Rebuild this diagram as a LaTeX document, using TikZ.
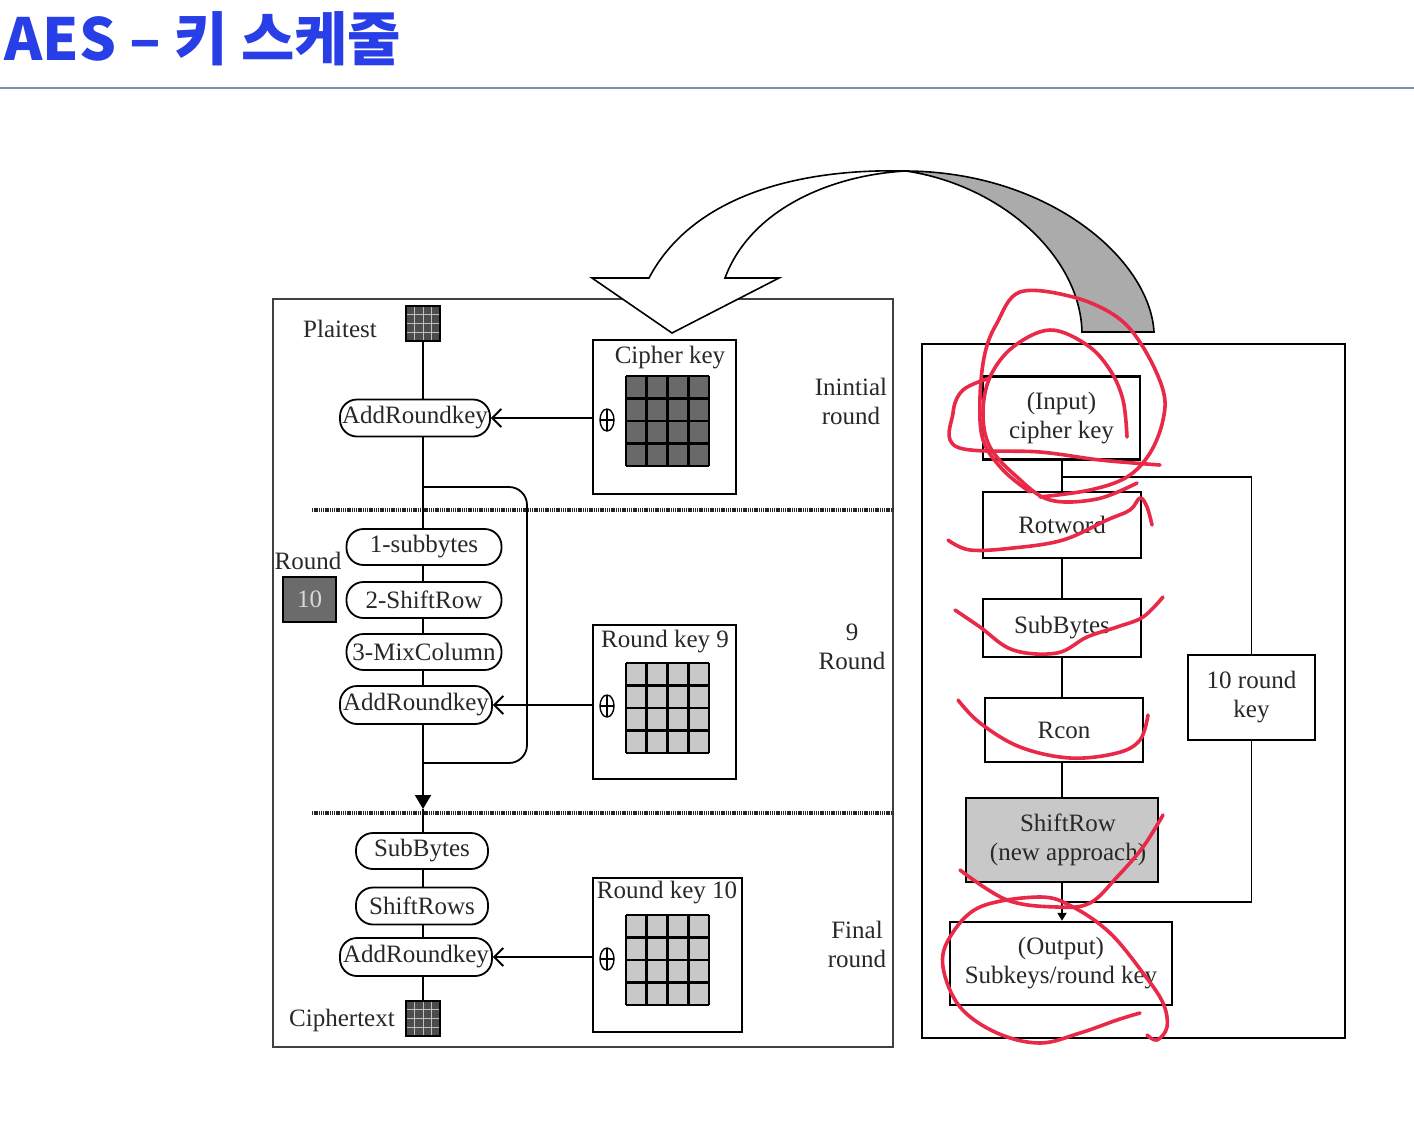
\documentclass[tikz,border=0pt]{standalone}
\usepackage{fontspec}
\setmainfont{Liberation Serif}
\newfontfamily\kr{Noto Sans CJK KR}
\usetikzlibrary{arrows.meta,shapes.geometric,shapes.misc}
\definecolor{titleblue}{RGB}{40,62,230}
\definecolor{rulec}{RGB}{125,145,175}
\definecolor{redink}{RGB}{232,42,72}
\definecolor{txt}{RGB}{40,40,40}
\definecolor{keydark}{RGB}{105,105,105}
\definecolor{keylight}{RGB}{200,200,200}
\newcommand{\kgrid}[3]{%
  \fill[#3] (#1,#2) rectangle ++(83,90);
  \foreach \i in {0,...,4} {
    \draw[line width=2.6] ({#1+\i*20.75},#2) -- ++(0,90);
    \draw[line width=2.6] (#1,{#2+\i*22.5}) -- ++(83,0);
  }}
\newcommand{\igrid}[2]{%
  \fill[black!70] (#1,#2) rectangle ++(34,35);
  \foreach \i in {1,...,3} {
    \draw[black!25, line width=1] ({#1+\i*8.5},#2) -- ++(0,35);
    \draw[black!25, line width=1] (#1,{#2+\i*8.75}) -- ++(34,0);
  }
  \draw[line width=1.4] (#1,#2) rectangle ++(34,35);}
\begin{document}
\begin{tikzpicture}[x=1pt,y=-1pt,
  every node/.style={font=\fontsize{25}{29}\selectfont, text=txt},
  pill/.style={draw, line width=1.8, rounded corners=17, minimum height=36, inner sep=0pt},
  bigbox/.style={draw, line width=2, black!75},
  keybox/.style={draw, line width=2, inner sep=0pt},
  rbox/.style={draw, line width=2.4, inner sep=0pt, align=center},
  xor/.style={draw, ellipse, line width=1.4, minimum width=14, minimum height=22, inner sep=0pt,
    path picture={\draw[line width=1.2] (path picture bounding box.north) -- (path picture bounding box.south)
      (path picture bounding box.west) -- (path picture bounding box.east);}},
  conn/.style={line width=1.8},
  dotline/.style={line width=3.6, black!85, dash pattern=on 1.4pt off 0.8pt},
  redstroke/.style={redink, line width=3.6, line cap=round, line join=round}]

\useasboundingbox (0,0) rectangle (1414,1136);
\fill[white] (0,0) rectangle (1414,1136);

% title
\node[anchor=west, inner sep=0pt, font=\kr\bfseries\fontsize{58}{66}\selectfont, text=titleblue] (title) at (4,39) {AES – 키 스케줄};
\draw[rulec, line width=2] (0,88) -- (1414,88);

% big boxes
\node[bigbox, minimum width=620, minimum height=748] (lb) at (583,673) {};
\node[bigbox, black, line width=2.2, minimum width=423, minimum height=694] (rb) at (1133.5,691) {};

% separators
\draw[dotline] (312,510) -- (893,510);
\draw[dotline] (312,813) -- (893,813);

% left column
\node (pt) at (340,329) {Plaitest};
\node[minimum width=34, minimum height=35, inner sep=0pt] (ptIcon) at (423,323.5) {};
\igrid{406}{306}
\node (ct) at (342,1020) {Ciphertext};
\node[minimum width=33, minimum height=35, inner sep=0pt] (ctIcon) at (423,1018.5) {};
\igrid{406}{1001}

\coordinate (sp) at (423,0);

\node[pill, minimum width=150, minimum height=37] (ark1) at (415,418) {AddRoundkey};
\node[pill, minimum width=155] (sb1) at (424,547) {1-subbytes};
\node[pill, minimum width=155] (sr1) at (424,600) {2-ShiftRow};
\node[pill, minimum width=155] (mc) at (424,652) {3-MixColumn};
\node[pill, minimum width=152, minimum height=38] (ark2) at (416,705) {AddRoundkey};
\node[pill, minimum width=132] (sbF) at (422,851) {SubBytes};
\node[pill, minimum width=132, minimum height=37] (srF) at (422,906) {ShiftRows};
\node[pill, minimum width=152, minimum height=38] (ark3) at (416,957) {AddRoundkey};

\node (rnd) at (308,561) {Round};
\node[draw, line width=1.5, fill=black!58, minimum width=53, minimum height=45, inner sep=0pt, text=black!15] (r10) at (309.5,599.5) {10};

% spine
\draw[conn] (ptIcon.south) -- (ptIcon.south |- ark1.north);
\draw[conn] (ark1.south -| sp) -- (sb1.north -| sp);
\draw[conn] (sb1.south -| sp) -- (sr1.north -| sp);
\draw[conn] (sr1.south -| sp) -- (mc.north -| sp);
\draw[conn] (mc.south -| sp) -- (ark2.north -| sp);
\coordinate (tipc) at (423,809);
\draw[conn, -{Triangle[length=14pt,width=16pt]}] (ark2.south -| sp) -- (tipc);
\draw[conn] (tipc) -- (sbF.north -| sp);
\draw[conn] (sbF.south -| sp) -- (srF.north -| sp);
\draw[conn] (srF.south -| sp) -- (ark3.north -| sp);
\draw[conn] (ark3.south -| sp) -- (ctIcon.north);

% loop
\coordinate (lpA) at (423,487);
\coordinate (lpB) at (423,763);
\draw[conn, rounded corners=18] (lpA) -- ++(104,0) -- ++(0,276) -- (lpB);

% key boxes
\node[keybox, minimum width=143, minimum height=154] (ck) at (664.5,417) {};
\node (ckT) at (670,358) {Cipher key};
\kgrid{626}{376}{keydark}
\node[xor] (x1) at (607,420) {};

\node[keybox, minimum width=143, minimum height=154] (rk9) at (664.5,702) {};
\node (rk9T) at (665,642) {Round key 9};
\kgrid{626}{663}{keylight}
\node[xor] (x2) at (607,706) {};

\node[keybox, minimum width=149, minimum height=154] (rk10) at (667.5,955) {};
\node (rk10T) at (667,893) {Round key 10};
\kgrid{626}{915}{keylight}
\node[xor] (x3) at (607,959) {};

\draw[conn, -{Straight Barb[length=9pt,width=18pt,line width=2pt]}] (ck.west |- ark1.east) -- (ark1.east);
\draw[conn, -{Straight Barb[length=9pt,width=18pt,line width=2pt]}] (rk9.west |- ark2.east) -- (ark2.east);
\draw[conn, -{Straight Barb[length=9pt,width=18pt,line width=2pt]}] (rk10.west |- ark3.east) -- (ark3.east);

% side labels
\node[align=center] (l1) at (851,401) {Inintial\\round};
\node[align=center] (l2) at (852,647) {9\\Round};
\node[align=center] (l3) at (857,944) {Final\\round};

% right column
\node[rbox, minimum width=157, minimum height=83] (inp) at (1061.5,418) {(Input)\\cipher key};
\node[rbox, minimum width=158, minimum height=66] (rot) at (1062,525) {Rotword};
\node[rbox, minimum width=158, minimum height=58] (sub) at (1062,628) {SubBytes};
\node[rbox, minimum width=158, minimum height=64] (rcon) at (1064,730) {Rcon};
\node[rbox, fill=keylight, minimum width=192, minimum height=84] (shr) at (1062,840) {\hspace*{12pt}ShiftRow\\\hspace*{12pt}(new approach)};
\node[rbox, minimum width=222, minimum height=83] (out) at (1061,963.5) {(Output)\\Subkeys/round key};
\node[rbox, minimum width=127, minimum height=85] (trk) at (1251.5,697.5) {10 round\\key};

\draw[conn] (inp.south -| rot.north) -- (rot.north);
\draw[conn] (rot.south) -- (sub.north);
\draw[conn] (sub.south) -- (sub.south |- rcon.north);
\draw[conn] (sub.south |- rcon.south) -- (sub.south |- shr.north);
\draw[conn, -{Triangle[length=8pt,width=9pt]}] (shr.south -| rot.south) -- (rot.south |- out.north);
\coordinate (bj) at (1062,477);
\coordinate (bj2) at (1062,902);
\draw[conn] (bj) -| (trk.north);
\draw[conn] (trk.south) |- (bj2);

% big curved arrow
\draw[line width=1.6, fill=white] (592,278) -- (649,278)
  .. controls (690,200) and (790,168) .. (906,171)
  .. controls (830,175) and (750,210) .. (725,278)
  -- (779,278) -- (672,333) -- cycle;
\draw[line width=1.6, fill=black!33] (906,171)
  .. controls (1050,172) and (1150,260) .. (1154,332)
  -- (1082,332)
  .. controls (1080,255) and (1000,185) .. (906,171) -- cycle;

% red annotations
\draw[redstroke] plot[smooth, tension=0.6] coordinates {(1127,437) (1123,400) (1110,370) (1087,345) (1050,330) (1013,347) (990,377) (983,413) (990,447) (1017,477) (1050,500) (1097,499) (1137,483)};
\draw[redstroke] plot[smooth, tension=0.6] coordinates {(1030,492) (1003,470) (983,440) (980,397) (985,353) (997,323) (1020,292) (1073,297) (1117,317) (1143,347) (1163,390) (1163,420) (1150,453) (1127,477) (1090,490) (1040,497)};
\draw[redstroke] plot[smooth, tension=0.6] coordinates {(1160,465) (1100,460) (1040,452) (957,447) (953,413) (963,390) (990,378)};
\draw[redstroke] plot[smooth, tension=0.6] coordinates {(948,540) (970,550) (1013,548) (1063,540) (1107,520) (1130,510) (1140,498) (1147,507) (1152,525)};
\draw[redstroke] plot[smooth, tension=0.6] coordinates {(955,610) (980,627) (1013,650) (1057,653) (1087,637) (1117,627) (1143,617) (1163,597)};
\draw[redstroke] plot[smooth, tension=0.6] coordinates {(958,700) (980,723) (1020,747) (1070,758) (1117,753) (1140,740) (1148,715)};
\draw[redstroke] plot[smooth, tension=0.6] coordinates {(1163,815) (1143,847) (1117,877) (1090,903) (1057,907) (1007,900) (960,870)};
\draw[redstroke] plot[smooth, tension=0.6] coordinates {(1140,1013) (1117,1020) (1080,1033) (1040,1043) (997,1033) (960,1007) (943,967) (950,937) (980,907) (1040,897) (1073,907) (1110,933) (1143,973) (1163,1003) (1167,1027) (1157,1040) (1147,1035)};

\end{tikzpicture}
\end{document}
